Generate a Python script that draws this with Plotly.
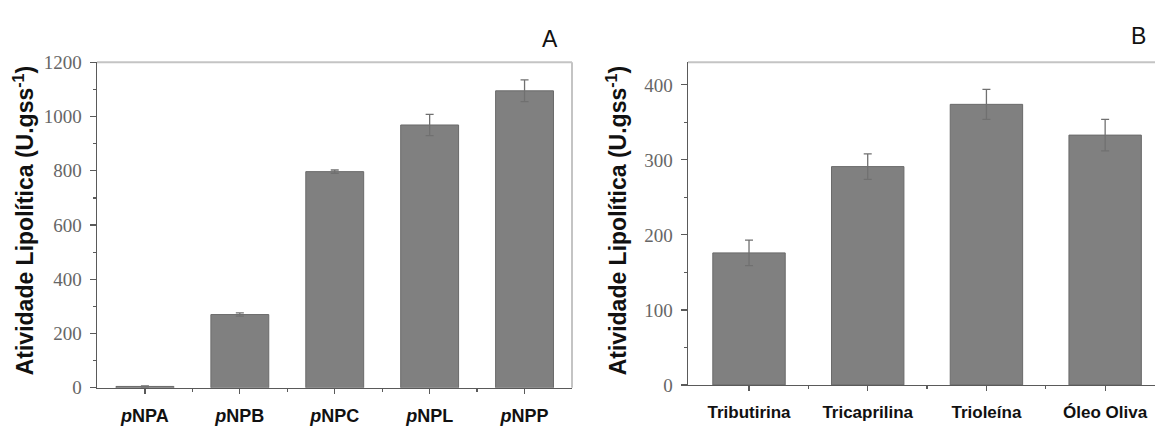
import plotly.graph_objects as go

# Panel A data
cats_a = ["<i>p</i>NPA", "<i>p</i>NPB", "<i>p</i>NPC", "<i>p</i>NPL", "<i>p</i>NPP"]
vals_a = [5, 270, 797, 969, 1095]
err_a = [2, 6, 6, 39, 40]
yticks_a = [0, 200, 400, 600, 800, 1000, 1200]

# Panel B data
cats_b = ["Tributirina", "Tricaprilina", "Trioleína", "Óleo Oliva"]
vals_b = [176, 291, 374, 333]
err_b = [17, 17, 20, 21]
yticks_b = [0, 100, 200, 300, 400]

BAR = "#808080"
AX = "#5a5a5a"
FRAME = "#c4c4c4"
TICKC = "#666666"
SERIF = "Liberation Serif"
SANS = "Liberation Sans"

fig = go.Figure()

fig.add_trace(go.Bar(
    x=list(range(len(cats_a))), y=vals_a, width=0.61,
    marker=dict(color=BAR, line=dict(color="#6a6a6a", width=1)),
    error_y=dict(type="data", array=err_a, color="#707070", thickness=1.3, width=4),
    xaxis="x", yaxis="y", showlegend=False, hoverinfo="skip",
))
fig.add_trace(go.Bar(
    x=list(range(len(cats_b))), y=vals_b, width=0.61,
    marker=dict(color=BAR, line=dict(color="#6a6a6a", width=1)),
    error_y=dict(type="data", array=err_b, color="#707070", thickness=1.3, width=4),
    xaxis="x2", yaxis="y2", showlegend=False, hoverinfo="skip",
))

common_x = dict(
    showline=True, linecolor=AX, linewidth=1.5, showgrid=False, zeroline=False,
    ticks="outside", ticklen=5, tickcolor=AX, tickwidth=1.2,
    ticklabelstandoff=6,
)
common_y = dict(
    showline=True, linecolor=AX, linewidth=1.5, showgrid=False, zeroline=False,
    ticks="outside", ticklen=6, tickcolor=AX, tickwidth=1.2,
    tickfont=dict(family=SERIF, size=19, color=TICKC),
    ticklabelstandoff=4,
)

fig.update_layout(
    width=1155, height=434,
    margin=dict(l=0, r=0, t=0, b=0),
    paper_bgcolor="white", plot_bgcolor="white",
    xaxis=dict(domain=[97/1155, 572/1155], range=[-0.505, 4.5],
               tickvals=list(range(len(cats_a))), ticktext=cats_a,
               minor=dict(tickvals=[0.5, 1.5, 2.5, 3.5], ticks="outside", ticklen=3, tickcolor=AX),
               tickfont=dict(family=SANS, size=18, color="#111111", weight="bold"),
               anchor="y", **common_x),
    yaxis=dict(domain=[1-397/434, 1-55/434], range=[0, 1200],
               tickvals=yticks_a,
               minor=dict(dtick=100, ticks="outside", ticklen=3, tickcolor=AX),
               anchor="x", **common_y),
    xaxis2=dict(domain=[688/1155, 1.0], range=[-0.514, 3.42],
                tickvals=list(range(len(cats_b))), ticktext=cats_b,
                minor=dict(tickvals=[0.5, 1.5, 2.5], ticks="outside", ticklen=3, tickcolor=AX),
                tickfont=dict(family=SANS, size=17, color="#111111", weight="bold"),
                anchor="y2", **common_x),
    yaxis2=dict(domain=[1-394/434, 1-55/434], range=[0, 430],
                tickvals=yticks_b,
                minor=dict(dtick=50, ticks="outside", ticklen=3, tickcolor=AX),
                anchor="x2", **common_y),
)

# light frame lines (top/right)
fig.add_shape(type="line", xref="x domain", yref="y domain", x0=0, x1=1, y0=1, y1=1,
              line=dict(color=FRAME, width=2), layer="below")
fig.add_shape(type="line", xref="x domain", yref="y domain", x0=1, x1=1, y0=0, y1=1,
              line=dict(color=FRAME, width=2), layer="below")
fig.add_shape(type="line", xref="x2 domain", yref="y2 domain", x0=0, x1=1, y0=1, y1=1,
              line=dict(color=FRAME, width=2), layer="below")

title = "<b>Atividade Lipolítica (U.gss<sup>-1</sup>)</b>"
for xc in (24, 617):
    fig.add_annotation(text=title, textangle=-90, xref="paper", yref="paper",
                       x=xc/1155, y=1-221/434, xanchor="center", yanchor="middle",
                       showarrow=False, font=dict(family=SANS, size=23, color="#111111"))
fig.add_annotation(text="A", xref="paper", yref="paper", x=550/1155, y=1-30/434,
                   xanchor="center", yanchor="middle",
                   showarrow=False, font=dict(family=SANS, size=23, color="#111111"))
fig.add_annotation(text="B", xref="paper", yref="paper", x=1138/1155, y=1-27/434,
                   xanchor="center", yanchor="middle",
                   showarrow=False, font=dict(family=SANS, size=23, color="#111111"))

fig.write_html("out.html", config={"displayModeBar": False, "staticPlot": True},
               post_script="document.body.style.margin='0';document.body.style.overflow='hidden';")
